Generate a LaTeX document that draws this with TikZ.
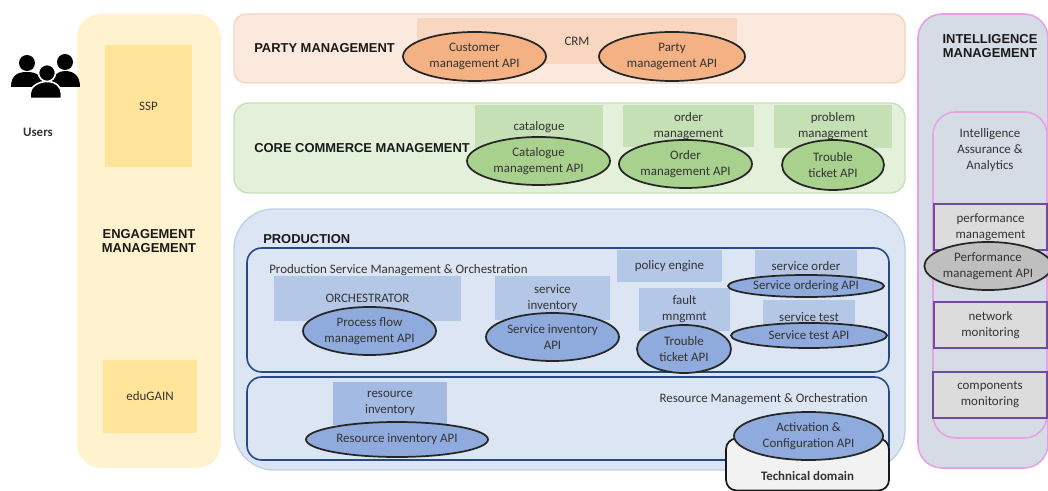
\documentclass[tikz,border=0pt]{standalone}
\usepackage{fontspec}
\setmainfont{Carlito}
\newfontfamily\headfont{Liberation Sans}
\usetikzlibrary{shapes.geometric}
\definecolor{yellowbg}{HTML}{FFF2CF}
\definecolor{yellowbox}{HTML}{FFE499}
\definecolor{orangebg}{HTML}{FBE9DD}
\definecolor{orangeline}{HTML}{F6D2BC}
\definecolor{orangebox}{HTML}{F8D6BF}
\definecolor{orangeapi}{HTML}{F4B183}
\definecolor{greenbg}{HTML}{E3F0DA}
\definecolor{greenline}{HTML}{C8E0B8}
\definecolor{greenbox}{HTML}{C5E0B4}
\definecolor{greenapi}{HTML}{A9D18E}
\definecolor{bluebg}{HTML}{DCE5F4}
\definecolor{blueline}{HTML}{BFCFE8}
\definecolor{bluebox}{HTML}{B4C7E7}
\definecolor{blueboxdark}{HTML}{A3BAE2}
\definecolor{blueapi}{HTML}{8FAADC}
\definecolor{blueframe}{HTML}{264A85}
\definecolor{greybg}{HTML}{D6DCE5}
\definecolor{greybox}{HTML}{DCDCDC}
\definecolor{greyapi}{HTML}{BFBFBF}
\definecolor{pinkline}{HTML}{E9A0E6}
\definecolor{purpleline}{HTML}{6F4A9E}
\begin{document}
\begin{tikzpicture}[x=0.75pt,y=-0.75pt,
                    font=\fontsize{9.7}{12}\selectfont,text=black!80,
                    size/.style 2 args={minimum width=#1*0.75pt,minimum height=#2*0.75pt,inner sep=0pt},
                    main box/.style={rectangle,align=center},
                    api node/.style={ellipse,draw=black!85,line width=1.3pt,align=center},
                    frame node/.style={rectangle,draw=blueframe,line width=1.2pt,fill=bluebg,rounded corners=11pt},
                    mon node/.style={main box,fill=greybox,draw=purpleline,line width=0.9pt},
                    head/.style={font=\headfont\bfseries\fontsize{9.7}{10.5}\selectfont,text=black!90,align=center,inner sep=0pt}]
  \useasboundingbox (0,0) rectangle (1048,491);
  % engagement
  \node[main box,size={144}{454},fill=yellowbg,rounded corners=18pt] (engage) at (149,241) {};
  \node[main box,size={87}{122},fill=yellowbox] (ssp) at (148.5,106) {SSP};
  \node[main box,size={94}{73},fill=yellowbox] (edugain) at (150,396.5) {eduGAIN};
  \node[head] (engagetxt) at (149,241) {ENGAGEMENT\\MANAGEMENT};
  % users
  \fill[black] (27,63) circle (8) (65,62) circle (8)
    (11,87) .. controls (11,75) and (18,72) .. (27,72) .. controls (36,72) and (42,75) .. (45,87) -- cycle
    (50,87) .. controls (52,75) and (58,71) .. (65,71) .. controls (73,71) and (80,75) .. (80,87) -- cycle;
  \fill[black,draw=white,line width=1.2pt] (47,73) circle (8.5)
    (30,98.5) -- (30,94) .. controls (30,87) and (38,81.5) .. (47,81.5) .. controls (56,81.5) and (61.5,87) .. (61.5,94) -- (61.5,98.5) -- cycle;
  \node[font=\bfseries\fontsize{9.7}{12}\selectfont] (users) at (38,132) {Users};
  % party
  \node[main box,size={671}{69},fill=orangebg,draw=orangeline,line width=1pt,rounded corners=9pt] (party) at (569.5,48.5) {};
  \node[main box,size={320}{46},fill=orangebox] (crm) at (577,41) {CRM};
  \node[head,anchor=west] (partytxt) at (254,48) {PARTY MANAGEMENT};
  \node[api node,size={143}{49},fill=orangeapi] (customerapi) at (474.5,56.5) {Customer\\management API};
  \node[api node,size={146}{49},fill=orangeapi] (partyapi) at (672,56.5) {Party\\management API};
  % commerce
  \node[main box,size={671}{90},fill=greenbg,draw=greenline,line width=1pt,rounded corners=11pt] (commerce) at (569.5,148) {};
  \node[main box,size={128}{45},fill=greenbox] (catalogue) at (539,127.5) {catalogue};
  \node[main box,size={131}{42},fill=greenbox] (order) at (688.5,126) {order\\management};
  \node[main box,size={118}{43},fill=greenbox] (problem) at (833,126.5) {problem\\management};
  \node[head,anchor=west] (commercetxt) at (254,148) {CORE COMMERCE MANAGEMENT};
  \node[api node,size={143}{48},fill=greenapi] (catalogueapi) at (538.5,161) {Catalogue\\management API};
  \node[api node,size={133}{48},fill=greenapi] (orderapi) at (685.5,164) {Order\\management API};
  \node[api node,size={102}{50},fill=greenapi] (problemapi) at (833,165) {Trouble\\ticket API};
  % production
  \node[main box,size={671}{261},fill=bluebg,draw=blueline,line width=1pt,rounded corners=30pt] (prod) at (569.5,339.5) {};
  \node[head,anchor=west] (prodtxt) at (263,239) {PRODUCTION};
  \node[frame node,size={642}{124}] (service) at (568,310) {};
  \node[frame node,size={642}{83}] (resource) at (568,418.5) {};
  \node[anchor=west,inner sep=0pt] (servicetxt) at (269,270) {Production Service Management \& Orchestration};
  \node[anchor=east,inner sep=0pt] (resourcetxt) at (868,399) {Resource Management \& Orchestration};
  \node[main box,size={187}{45},fill=bluebox] (orch) at (367.5,298.5) {ORCHESTRATOR};
  \node[main box,size={115}{44},fill=bluebox] (sinv) at (552.5,298) {service\\inventory};
  \node[main box,size={105}{32},fill=bluebox] (policy) at (669.5,266) {policy engine};
  \node[main box,size={102}{32},fill=bluebox] (sorder) at (806,266) {service order};
  \node[main box,size={91}{43},fill=bluebox] (fault) at (684.5,309.5) {fault\\mngmnt};
  \node[main box,size={92}{34},fill=bluebox] (stest) at (809,317) {service test};
  \node[main box,size={114}{43},fill=blueboxdark] (rinv) at (390,403.5) {resource\\inventory};
  \node[api node,size={133}{48},fill=blueapi] (procapi) at (369.5,331) {Process flow\\management API};
  \node[api node,size={133}{48},fill=blueapi] (sinvapi) at (552.5,337) {Service inventory\\API};
  \node[api node,size={156}{22},fill=blueapi] (sorderapi) at (806,286) {Service ordering API};
  \node[api node,size={94}{48},fill=blueapi] (faultapi) at (684,349) {Trouble\\ticket API};
  \node[api node,size={156}{25},fill=blueapi] (stestapi) at (809,335.5) {Service test API};
  \node[api node,size={182}{35},fill=blueapi] (rinvapi) at (397,439.5) {Resource inventory API};
  % technical domain
  \node[main box,size={163}{52},fill=black!5,draw=black!90,line width=1.3pt,rounded corners=8pt] (tech) at (807.5,464.5) {};
  \node[inner sep=0pt,font=\bfseries\fontsize{9.7}{12}\selectfont] (techtxt) at (807.5,476) {Technical domain};
  \node[api node,size={149}{48},fill=blueapi] (actapi) at (808.5,436) {Activation \&\\Configuration API};
  % intelligence
  \node[main box,size={130}{454},fill=greybg,draw=pinkline,line width=1.2pt,rounded corners=18pt] (intel) at (983,241) {};
  \node[head] (inteltxt) at (990,46) {INTELLIGENCE\\MANAGEMENT};
  \node[main box,size={114}{326},draw=pinkline,line width=1.2pt,rounded corners=17pt] (assure) at (990,275) {};
  \node[inner sep=0pt,align=center] (assuretxt) at (990,150) {Intelligence\\Assurance \&\\Analytics};
  \node[mon node,size={113}{46}] (perf) at (990.5,227) {performance\\management};
  \node[mon node,size={113}{46}] (net) at (990.5,325) {network\\monitoring};
  \node[mon node,size={114}{46}] (comp) at (990,395) {components\\monitoring};
  \node[api node,size={124}{48},fill=greyapi] (perfapi) at (988,266) {Performance\\management API};
\end{tikzpicture}
\end{document}
